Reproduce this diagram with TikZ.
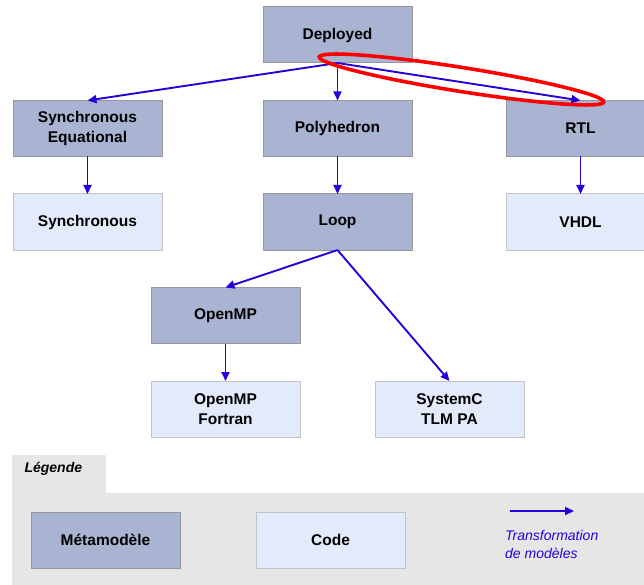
\documentclass[tikz,border=0pt]{standalone}
\usepackage{fontspec}
\setmainfont{Liberation Sans}
\usepackage{xcolor}
\usetikzlibrary{arrows.meta, positioning}

\definecolor{metafill}{RGB}{169,180,210}
\definecolor{metadraw}{RGB}{150,150,155}
\definecolor{codefill}{RGB}{226,234,251}
\definecolor{codedraw}{RGB}{195,195,200}
\definecolor{transblue}{RGB}{40,0,220}
\definecolor{legendbg}{RGB}{230,230,230}

\begin{document}
\begin{tikzpicture}[
    x=1pt, y=-1pt,
    box/.style={
        rectangle,
        draw,
        line width=1pt,
        minimum width=149pt,
        minimum height=56pt,
        inner sep=0pt,
        outer sep=0pt,
        align=center,
        font=\bfseries\fontsize{15.5}{20}\selectfont
    },
    meta/.style={box, fill=metafill, draw=metadraw},
    code/.style={box, fill=codefill, draw=codedraw},
    trans/.style={-{Triangle[length=9pt, width=8pt]}, line width=1.9pt, draw=transblue},
    highlight/.style={draw=red, line width=3.6pt},
    node distance=37.5pt and 101pt
]
\useasboundingbox (0,0) rectangle (644,585);

% Metamodels and code
\node[meta] (deployed) at (337.5,35) {Deployed};
\node[meta, below=of deployed] (poly) {Polyhedron};
\node[meta, left=of poly] (synceq) {Synchronous\\Equational};
\node[meta, right=94pt of poly] (rtl) {RTL};
\node[code, below=of synceq] (sync) {Synchronous};
\node[meta, below=of poly] (loop) {Loop};
\node[code, below=of rtl] (vhdl) {VHDL};
\node[meta] (openmp) at (225.5,315.5) {OpenMP};
\node[code, below=of openmp] (fortran) {OpenMP\\Fortran};
\node[code, right=75pt of fortran] (systemc) {SystemC\\TLM PA};

% Transformations
\draw[trans] (deployed.south) -- (synceq.north);
\draw[trans] (deployed.south) -- (poly.north);
\draw[trans] (deployed.south) -- (rtl.north);
\draw[trans] (synceq) -- (sync);
\draw[trans] (poly) -- (loop);
\draw[trans] (rtl) -- (vhdl);
\draw[trans] (loop.south) -- (openmp.north);
\draw[trans] (loop.south) -- (systemc.north);
\draw[trans] (openmp) -- (fortran);

% Highlight
\draw[highlight] (461.5,79.5) ellipse [x radius=144pt, y radius=12pt, rotate=-9];

% Legend
\fill[legendbg] (12,455) rectangle (106,493);
\fill[legendbg] (12,493) rectangle (650,590);
\node[anchor=west, font=\bfseries\itshape\fontsize{14}{17}\selectfont] (legtitle) at (21,469) {Légende};
\node[meta, anchor=west] (legmeta) at (31,540) {Métamodèle};
\node[code, anchor=west] (legcode) at (256,540) {Code};
\coordinate (legfrom) at (510,511);
\coordinate (legto) at (574,511);
\draw[trans] (legfrom) -- (legto);
\node[anchor=west, align=left, inner sep=0pt, text=transblue,
      font=\itshape\fontsize{14}{18}\selectfont] (legtrans) at (505,544) {Transformation\\de modèles};

\end{tikzpicture}
\end{document}
